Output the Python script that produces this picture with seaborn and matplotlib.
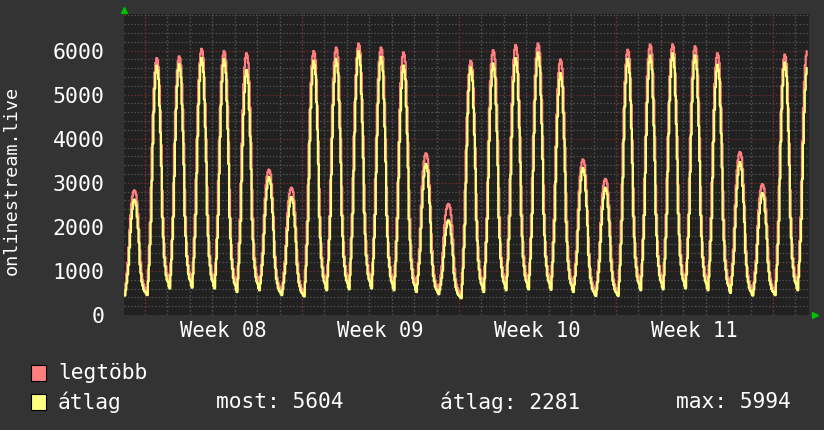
import numpy as np
import pandas as pd
import seaborn as sns
import matplotlib.pyplot as plt
from matplotlib.patches import Rectangle

# daily peaks, Sunday of week 07 .. Tuesday of week 12
avg_peak = [2620, 5660, 5700, 5830, 5810, 5560, 3130, 2680,
            5770, 5810, 5990, 5860, 5660, 3430, 2150,
            5620, 5710, 5830, 5960, 5490, 3340, 2890,
            5810, 5890, 5940, 5890, 5680, 3470, 2770,
            5730, 5610]
max_peak = [2830, 5830, 5870, 6040, 5990, 5940, 3300, 2890,
            5990, 6070, 6160, 6070, 5960, 3670, 2520,
            5770, 6010, 6130, 6160, 5800, 3530, 3090,
            6020, 6140, 6140, 6100, 5940, 3700, 2970,
            5910, 5990]
# night lows (around 02:00) of each day
night_low = [440, 450, 600, 620, 600, 520, 560, 450,
             420, 560, 580, 600, 560, 520, 470,
             380, 520, 560, 580, 570, 520, 430,
             430, 560, 580, 600, 560, 500, 440,
             450, 560]
# typical hourly shape of a day (0 = night low, 1 = daily peak)
avg_shape = [0.03, 0.01, 0.0, 0.06, 0.13, 0.22, 0.32, 0.5, 0.66, 0.8, 0.9, 0.97,
             1.0, 0.98, 0.94, 0.82, 0.7, 0.55, 0.32, 0.23, 0.14, 0.1, 0.06, 0.04]
max_shape = [0.05, 0.02, 0.0, 0.1, 0.2, 0.3, 0.45, 0.62, 0.76, 0.87, 0.94, 0.98,
             1.0, 0.99, 0.96, 0.88, 0.77, 0.62, 0.42, 0.3, 0.19, 0.13, 0.09, 0.06]

week_labels = ["Week 08", "Week 09", "Week 10", "Week 11"]
legend_names = ["legtöbb", "átlag"]
stats = ["most: 5604", "átlag: 2281", "max: 5994"]

red = "#ff7f7f"
yellow = "#ffff80"

rows = []
ndays = len(avg_peak)
for d in range(ndays):
    hours = range(24)
    if d == 0:
        hours = range(2, 24)
    if d == ndays - 1:
        hours = range(0, 13)
    for h in hours:
        lo = night_low[d] if h <= 12 else night_low[min(d + 1, ndays - 1)]
        pa = avg_peak[d] if h >= 2 else avg_peak[d - 1]
        pm = max_peak[d] if h >= 2 else max_peak[d - 1]
        t = d - 1 + h / 24
        rows.append((t, lo + (pa - lo) * avg_shape[h], "átlag"))
        rows.append((t, lo + 40 + (pm - lo - 40) * max_shape[h], "legtöbb"))
df = pd.DataFrame(rows, columns=["day", "value", "series"])

sns.set_style("dark")
plt.rcParams["font.family"] = ["DejaVu Sans Mono"]

fig = plt.figure(figsize=(8.24, 4.30), dpi=100, facecolor="#333333")
ax = fig.add_axes([124 / 824, 1 - 315 / 430, 685 / 824, 301 / 430])
ax.set_facecolor("#212121")

x0 = -0.936
x1 = x0 + 685 / 157 * 7
ax.set_xlim(x0, x1)
ax.set_ylim(0, 6830)

# grid
for v in np.arange(200, 6830, 200):
    if v % 1000:
        ax.axhline(v, color="#505050", lw=0.9, ls=(0, (1.2, 1.5)), zorder=0)
for v in range(1000, 7000, 1000):
    ax.axhline(v, color="#6e2c2c", lw=0.9, ls=(0, (1.2, 1.5)), zorder=0)
for d in range(0, 30):
    c = "#7a3030" if d % 7 == 0 else "#505050"
    ax.axvline(d, color=c, lw=1.0, ls=(0, (1.2, 1.5)), zorder=0)

sns.lineplot(data=df, x="day", y="value", hue="series",
             hue_order=["legtöbb", "átlag"], palette=[red, yellow],
             drawstyle="steps-post", lw=1.6, legend=False, ax=ax,
             estimator=None, sort=True)

ax.set_yticks(range(0, 7000, 1000))
ax.set_yticklabels([str(v) for v in range(0, 7000, 1000)])
ax.set_xticks([])
ax.tick_params(axis="y", length=0, pad=14, labelsize=15.5, labelcolor="white")
ax.set_xlabel("")
ax.set_ylabel("")
for s in ax.spines.values():
    s.set_visible(False)

for i, lab in enumerate(week_labels):
    ax.text(i * 7 + 3.5, -16 / 301, lab, transform=ax.get_xaxis_transform(),
            ha="center", va="center", color="white", fontsize=14.8)

# little green arrows at the axis ends
ax.plot([0], [1.012], marker="^", color="#00c000", ms=5, transform=ax.transAxes,
        clip_on=False)
ax.plot([1.009], [0], marker=">", color="#00c000", ms=5, transform=ax.transAxes,
        clip_on=False)

fig.text(12 / 824, 1 - 180 / 430, "onlinestream.live", rotation=90,
         ha="center", va="center", color="white", fontsize=13.3)

# legend
for i, (name, col) in enumerate(zip(legend_names, [red, yellow])):
    yc = 373 + 29 * i
    fig.patches.append(Rectangle((31 / 824, 1 - (yc + 8) / 430), 15 / 824, 16 / 430,
                                 transform=fig.transFigure, facecolor=col,
                                 edgecolor="black", lw=0.8))
    fig.text(58 / 824, 1 - yc / 430, name, ha="left", va="center",
             color="white", fontsize=15.3)
for xs, s in zip([216, 440, 676], stats):
    fig.text(xs / 824, 1 - 402 / 430, s, ha="left", va="center",
             color="white", fontsize=15.3)

fig.savefig("out.png", dpi=100, facecolor=fig.get_facecolor())
